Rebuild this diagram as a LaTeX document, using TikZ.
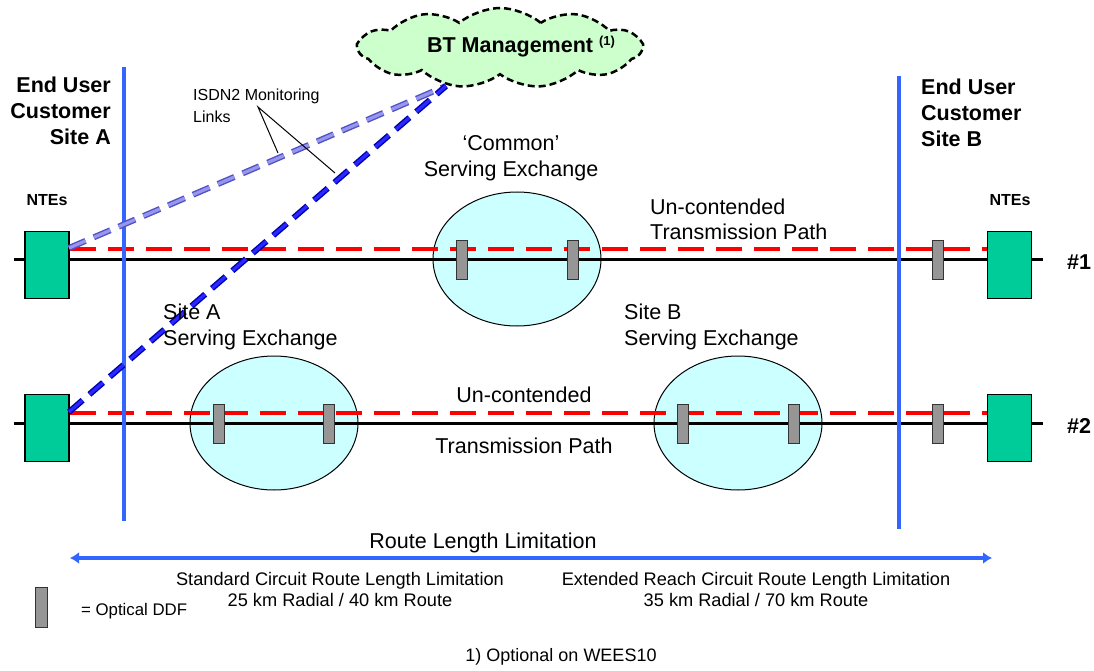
\documentclass[tikz,border=0pt]{standalone}
\usepackage{fontspec}
\setmainfont{Liberation Sans}
\usetikzlibrary{shapes.geometric,shapes.symbols,arrows.meta}
\definecolor{nteGreen}{RGB}{0,204,153}
\definecolor{exchCyan}{RGB}{204,255,255}
\definecolor{ddfGray}{RGB}{150,150,150}
\definecolor{siteBlue}{RGB}{51,102,255}
\definecolor{cloudGreen}{RGB}{204,255,204}
\definecolor{linkLight}{RGB}{150,150,235}
\definecolor{linkLightEdge}{RGB}{80,80,200}
\definecolor{linkDark}{RGB}{40,40,255}
\definecolor{linkDarkEdge}{RGB}{0,0,170}
\tikzset{
  nte/.style={draw=black, line width=1.2pt, fill=nteGreen, minimum width=44pt, minimum height=67pt, inner sep=0pt},
  ddf/.style={draw=black!80, line width=1pt, fill=ddfGray, minimum width=11pt, minimum height=39pt, inner sep=0pt},
  exch/.style={ellipse, draw=black, line width=1pt, fill=exchCyan, minimum width=168pt, minimum height=134pt, inner sep=0pt},
  circuit/.style={draw=black, line width=3pt},
  redpath/.style={draw=red, line width=4pt, dash pattern=on 26pt off 12pt},
  sitebound/.style={draw=siteBlue, line width=4pt},
  bigbold/.style={font=\fontsize{21.5}{26}\selectfont\bfseries, inner sep=0pt},
  bigtext/.style={font=\fontsize{21.5}{26.5}\selectfont, inner sep=0pt},
  midtext/.style={font=\fontsize{16}{22}\selectfont, inner sep=0pt},
  smallbold/.style={font=\fontsize{16}{20}\selectfont\bfseries, inner sep=0pt},
  subtext/.style={font=\fontsize{18.2}{21}\selectfont, inner sep=0pt},
  linkedge/.style={line width=6pt, dash pattern=on 18pt off 9pt},
  linkfill/.style={line width=3.2pt, dash pattern=on 18pt off 9pt},
  pointer/.style={draw=black, line width=1pt},
}
\begin{document}
\begin{tikzpicture}[x=1pt,y=-1pt]
\useasboundingbox (0,0) rectangle (1094,671);

% exchanges
\node[exch] (common) at (517,259) {};
\node[exch] (exA) at (274,423) {};
\node[exch] (exB) at (738,423) {};

% circuit lines
\coordinate (l1s) at (14,259); \coordinate (l1e) at (1043,259);
\coordinate (l2s) at (14,423); \coordinate (l2e) at (1043,423);
\draw[circuit] (l1s) -- (l1e);
\draw[circuit] (l2s) -- (l2e);

% NTEs
\node[nte] (nA1) at (47,265) {};
\node[nte] (nA2) at (47,428) {};
\node[nte] (nB1) at (1009.5,265) {};
\node[nte] (nB2) at (1009.5,428) {};

% red dashed transmission paths
\draw[redpath] (nA1.east |- 0,249) -- (nB1.west |- 0,249);
\draw[redpath] (nA2.east |- 0,413) -- (nB2.west |- 0,413);

% site boundaries
\coordinate (bA1) at (124,67); \coordinate (bA2) at (124,521);
\coordinate (bB1) at (899,76); \coordinate (bB2) at (899,529);
\draw[sitebound] (bA1) -- (bA2);
\draw[sitebound] (bB1) -- (bB2);

% DDFs
\node[ddf] (d1a) at (461.5,260) {};
\node[ddf] (d1b) at (573,260) {};
\node[ddf] (d1c) at (937.5,259.5) {};
\node[ddf] (d2a) at (218.5,423.5) {};
\node[ddf] (d2b) at (329,423.5) {};
\node[ddf] (d2c) at (683,423.5) {};
\node[ddf] (d2d) at (793.5,423.5) {};
\node[ddf] (d2e) at (937.5,423.5) {};

% cloud
\node[cloud, cloud puffs=11, cloud puff arc=80, aspect=3.4, draw=black, fill=cloudGreen,
      line width=2.5pt, dash pattern=on 7pt off 4pt, minimum width=283pt, minimum height=80pt,
      inner sep=0pt] (bt) at (500,48) {};
\node[inner sep=0pt, font=\fontsize{21.5}{24}\selectfont\bfseries] (btlabel) at (521,47)
  {BT Management \raisebox{7pt}{\fontsize{13}{13}\selectfont(1)}};

% monitoring links
\coordinate (btfoot) at (446,86);
\coordinate (mA1) at (69,248);
\coordinate (mA2) at (69,412);
\draw[linkedge, draw=linkLightEdge] (mA1) -- (btfoot);
\draw[linkfill, draw=linkLight] (mA1) -- (btfoot);
\draw[linkedge, draw=linkDarkEdge] (mA2) -- (btfoot);
\draw[linkfill, draw=linkDark] (mA2) -- (btfoot);

% ISDN label and pointers
\node[midtext, anchor=west, align=left] (isdn) at (193,106) {ISDN2 Monitoring\\Links};
\coordinate (ptip) at (258,107);
\coordinate (pA) at (278,153);
\coordinate (pB) at (335,173);
\draw[pointer] (pA) -- (ptip) -- (pB);

% site labels
\node[bigbold, anchor=east, align=right] (siteA) at (111,111) {End User\\Customer\\Site A};
\node[bigbold, anchor=west, align=left] (siteB) at (921,113) {End User\\Customer\\Site B};
\node[smallbold] (nteLabA) at (47,200) {NTEs};
\node[smallbold] (nteLabB) at (1010,200) {NTEs};

% exchange labels
\node[bigtext, align=center] (commonLab) at (511,158) {‘Common’\\Serving Exchange};
\node[bigtext, anchor=west, align=left, font=\fontsize{21.5}{25}\selectfont] (uc1) at (650,219) {Un-contended\\Transmission Path};
\node[bigtext, anchor=west, align=left] (exALab) at (163,327) {Site A\\Serving Exchange};
\node[bigtext, anchor=west, align=left] (exBLab) at (624,327) {Site B\\Serving Exchange};
\node[bigtext] (uc2a) at (524,395) {Un-contended};
\node[bigtext] (uc2b) at (524,446) {Transmission Path};

% circuit numbers
\node[bigbold, anchor=west] (c1) at (1067,262) {\#1};
\node[bigbold, anchor=west] (c2) at (1067,426) {\#2};

% route length
\node[bigtext] (route) at (483,543) {Route Length Limitation};
\coordinate (rL) at (70,558); \coordinate (rR) at (992,558);
\draw[draw=siteBlue, line width=4pt, {Latex[length=9pt,width=12pt]}-{Latex[length=9pt,width=12pt]}] (rL) -- (rR);
\node[subtext, align=center] (std) at (340,589.5) {Standard Circuit Route Length Limitation\\25 km Radial / 40 km Route};
\node[subtext, align=center] (ext) at (756,589.5) {Extended Reach Circuit Route Length Limitation\\35 km Radial / 70 km Route};

% legend
\node[ddf, minimum width=12pt, minimum height=40pt] (legddf) at (41.5,607) {};
\node[inner sep=0pt, anchor=west, font=\fontsize{16.8}{19}\selectfont] (legtext) at (81,611) {= Optical DDF};

% footnote
\node[inner sep=0pt, font=\fontsize{18}{20}\selectfont] (foot) at (561,657) {1) Optional on WEES10};
\end{tikzpicture}
\end{document}
